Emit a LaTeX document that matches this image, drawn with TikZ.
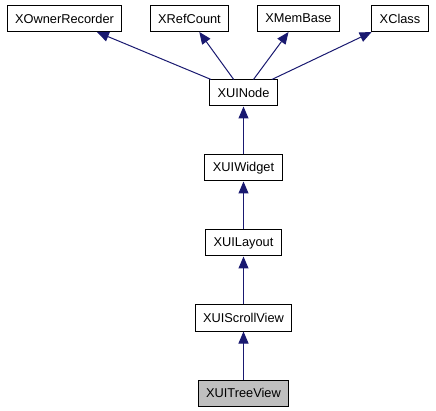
\documentclass[tikz,border=0pt]{standalone}
\usepackage{fontspec}
\setmainfont{Liberation Sans}
\usetikzlibrary{positioning, arrows.meta}
\definecolor{edgeblue}{HTML}{191970}
\definecolor{curgray}{HTML}{BFBFBF}

\begin{document}
\begin{tikzpicture}[x=1pt, y=-1pt, node distance=75pt, on grid,
  cls/.style={draw=black, line width=1pt, fill=white, minimum height=26pt,
    inner xsep=8pt, font=\fontsize{12.8}{15}\selectfont},
  inherit/.style={-{Triangle[length=12pt, width=10pt]}, draw=edgeblue,
    fill=edgeblue, line width=1pt}]
  \useasboundingbox (0,0) rectangle (436,411);

  % base classes
  \node[cls] (xownerrecorder) at (64.5,18.5) {XOwnerRecorder};
  \node[cls] (xrefcount) at (189.5,18.5) {XRefCount};
  \node[cls] (xmembase) at (298.5,18.5) {XMemBase};
  \node[cls] (xclass) at (400,18.5) {XClass};

  % chain
  \node[cls] (xuinode) at (243.5,93) {XUINode};
  \node[cls] (xuiwidget) [below=of xuinode] {XUIWidget};
  \node[cls] (xuilayout) [below=of xuiwidget] {XUILayout};
  \node[cls] (xuiscrollview) [below=of xuilayout] {XUIScrollView};
  \node[cls, fill=curgray] (xuitreeview) [below=of xuiscrollview] {XUITreeView};

  \path[inherit]
  (xuinode) edge (xownerrecorder)
    (xuinode) edge (xrefcount)
    (xuinode) edge (xmembase)
    (xuinode) edge (xclass)
  (xuiwidget) edge (xuinode)
  (xuilayout) edge (xuiwidget)
  (xuiscrollview) edge (xuilayout)
  (xuitreeview) edge (xuiscrollview);
\end{tikzpicture}
\end{document}
